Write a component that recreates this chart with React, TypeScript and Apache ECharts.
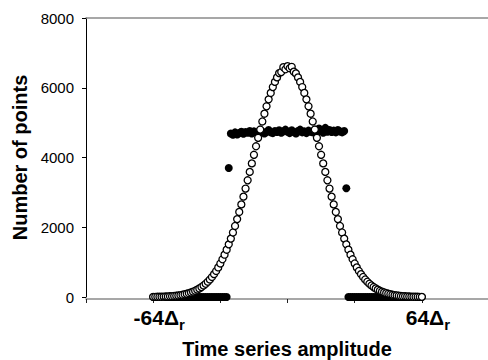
import React, { useEffect, useRef } from "react";
import * as echarts from "echarts";

// Amplitude positions in units of Δr (one bin per Δr, from -64 to 64)
const amplitudes: number[] = Array.from({ length: 129 }, (_, i) => i - 64);

// Open circles: histogram of the original (Gaussian-like) series
const originalCounts: number[] = [
  4, 5, 6, 7, 9, 11, 13, 16, 20, 24, 29, 36, 44, 53, 64, 77,
  92, 110, 130, 154, 180, 211, 246, 285, 330, 380, 438, 502, 574, 655, 746, 848,
  961, 1082, 1214, 1356, 1509, 1674, 1850, 2036, 2233, 2439, 2655, 2878, 3109, 3346, 3587, 3831,
  4077, 4322, 4565, 4802, 5033, 5256, 5468, 5667, 5852, 6019, 6168, 6297, 6420, 6450, 6590, 6530,
  6620,
  6560, 6600, 6460, 6410, 6297, 6168, 6019, 5852, 5667, 5468, 5256, 5033, 4802, 4565, 4322, 4077,
  3831, 3587, 3346, 3109, 2878, 2655, 2439, 2233, 2036, 1850, 1674, 1509, 1356, 1214, 1082, 961,
  848, 746, 655, 574, 502, 438, 380, 330, 285, 246, 211, 180, 154, 130, 110, 92,
  77, 64, 53, 44, 36, 29, 24, 20, 16, 13, 11, 9, 7, 6, 5, 4,
];

// Filled circles: histogram of the quantised / clipped series
const clippedCounts: number[] = [
  0, 0, 0, 0, 0, 0, 0, 0, 0, 0, 0, 0, 0, 0, 0, 0, 0, 0,
  0, 0, 0, 0, 0, 0, 0, 0, 0, 0, 0, 0, 0, 0, 0, 0, 0, 0,
  3700,
  4690, 4650, 4720, 4660, 4700, 4740, 4680, 4730, 4710, 4760, 4690, 4750, 4720, 4700,
  4770, 4730, 4690, 4740, 4790, 4720, 4700, 4760, 4730, 4780, 4710, 4750, 4800, 4740,
  4700, 4780, 4730, 4690, 4760, 4800, 4720, 4750, 4700, 4770, 4740, 4720, 4790, 4730,
  4830, 4760, 4710, 4850, 4740, 4790, 4730, 4770, 4720, 4790, 4750, 4720, 4760,
  3120,
  0, 0, 0, 0, 0, 0, 0, 0, 0, 0, 0, 0, 0, 0, 0, 0, 0, 0,
  0, 0, 0, 0, 0, 0, 0, 0, 0, 0, 0, 0, 0, 0, 0, 0, 0, 0,
];

const xTickLabels: Record<string, string> = { "-64": "-64", "64": "64" };
const yAxisTitle = "Number of points";
const xAxisTitle = "Time series amplitude";

const FONT = "'Liberation Sans', Arial, Helvetica, sans-serif";

export default function App() {
  const ref = useRef<HTMLDivElement>(null);

  useEffect(() => {
    if (!ref.current) return;
    const chart = echarts.init(ref.current, null, { renderer: "svg" });
    const openData = amplitudes.map((x, i) => [x, originalCounts[i]]);
    const filledData = amplitudes.map((x, i) => [x, clippedCounts[i]]);

    chart.setOption({
      animation: false,
      backgroundColor: "#fff",
      grid: { left: 86, right: 0, top: 18, bottom: 63, containLabel: false, outerBoundsMode: "none" },
      xAxis: [
        {
          type: "value",
          min: -96,
          max: 95.5,
          interval: 32,
          offset: 2,
          name: xAxisTitle,
          nameLocation: "middle",
          nameGap: 40,
          nameTextStyle: { fontFamily: FONT, fontWeight: "bold", fontSize: 20, color: "#000" },
          axisLine: { show: true, onZero: false, lineStyle: { color: "#8a8a8a", width: 1.5 } },
          axisTick: { show: true, inside: false, length: 4, lineStyle: { color: "#222", width: 1 } },
          splitLine: { show: false },
          axisLabel: {
            margin: 8,
            padding: [0, 0, 0, 12],
            formatter: (v: number) => {
              const t = xTickLabels[String(Math.round(v))];
              return t ? `{a|${t}Δ}{s|r}` : "";
            },
            rich: {
              a: { fontFamily: FONT, fontWeight: "bold", fontSize: 21, color: "#000", lineHeight: 22, verticalAlign: "top" },
              s: { fontFamily: FONT, fontWeight: "bold", fontSize: 15, color: "#000", lineHeight: 15, padding: [10, 0, 0, 0], verticalAlign: "top" },
            },
          },
        },
        {
          type: "value",
          position: "top",
          min: -96,
          max: 95.5,
          axisLine: { show: true, onZero: false, lineStyle: { color: "#8a8a8a", width: 1.5 } },
          axisTick: { show: false },
          axisLabel: { show: false },
          splitLine: { show: false },
        },
      ],
      yAxis: {
        type: "value",
        min: 0,
        max: 8000,
        interval: 2000,
        name: yAxisTitle,
        nameLocation: "middle",
        nameGap: 54,
        nameTextStyle: { fontFamily: FONT, fontWeight: "bold", fontSize: 20, color: "#000" },
        axisLine: { show: true, onZero: false, lineStyle: { color: "#000", width: 1 } },
        axisTick: { show: true, inside: false, length: 4, lineStyle: { color: "#000", width: 1 } },
        splitLine: { show: false },
        axisLabel: {
          fontFamily: FONT,
          fontSize: 15,
          color: "#000",
          margin: 12,
          formatter: (v: number) => String(v),
        },
      },
      series: [
        {
          type: "scatter",
          data: filledData,
          symbol: "circle",
          symbolSize: 8,
          itemStyle: { color: "#000", opacity: 1 },
          z: 2,
        },
        {
          type: "scatter",
          data: openData,
          symbol: "circle",
          symbolSize: 7,
          itemStyle: { color: "#fff", borderColor: "#000", borderWidth: 1.3, opacity: 1 },
          z: 3,
        },
      ],
    });

    return () => chart.dispose();
  }, []);

  return <div ref={ref} style={{ width: 488, height: 360, position: "absolute", left: 0, top: 0 }} />;
}
